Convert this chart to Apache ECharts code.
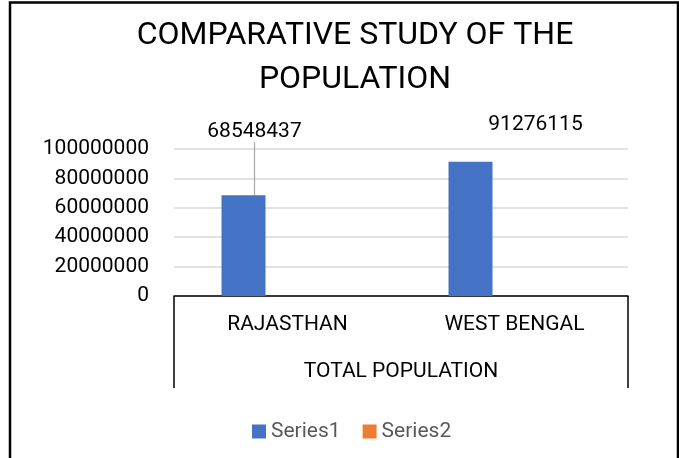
<!DOCTYPE html>
<html>
<head>
<meta charset="utf-8">
<script src="https://cdn.jsdelivr.net/npm/echarts@6/dist/echarts.min.js"></script>
<style>
html,body{margin:0;padding:0;background:#fff;}
#chart{width:679px;height:458px;}
</style>
</head>
<body>
<div id="chart"></div>
<script>
var titleText = 'COMPARATIVE STUDY OF THE\nPOPULATION';
var categories = ['RAJASTHAN', 'WEST BENGAL'];
var groupLabel = ['TOTAL POPULATION'];
var series1 = [68548437, 91276115];
var series2 = [null, null];
var seriesNames = ['Series1', 'Series2'];
var yTicks = [0, 20000000, 40000000, 60000000, 80000000, 100000000];

var FONT = 'Roboto';
var chart = echarts.init(document.getElementById('chart'));
var labelMoves = [[11, -48], [65, -22]];

chart.setOption({
  animation: false,
  backgroundColor: '#ffffff',
  title: {
    text: titleText,
    left: 350,
    top: 9,
    textAlign: 'center',
    textStyle: { fontFamily: FONT, fontSize: 32, fontWeight: 'normal', color: '#000000', lineHeight: 44 }
  },
  legend: {
    data: seriesNames,
    bottom: 11,
    left: 247,
    icon: 'rect',
    itemWidth: 14,
    itemHeight: 14,
    itemGap: 22,
    textStyle: { fontFamily: FONT, fontSize: 21, color: '#595959' }
  },
  grid: { left: 174, right: 51, top: 149, bottom: 162, containLabel: false },
  xAxis: [{
    type: 'category',
    data: categories,
    position: 'bottom',
    axisLine: { show: true, lineStyle: { color: '#000000', width: 1.5 } },
    axisTick: { show: false },
    axisLabel: { fontFamily: FONT, fontSize: 21, color: '#000000', margin: 18 }
  }, {
    type: 'category',
    data: groupLabel,
    position: 'bottom',
    axisLine: { show: false },
    axisTick: { show: true, length: 92, lineStyle: { color: '#000000', width: 1.5 } },
    axisLabel: { fontFamily: FONT, fontSize: 21, color: '#000000', margin: 65 }
  }],
  yAxis: {
    type: 'value',
    min: yTicks[0],
    max: yTicks[yTicks.length - 1],
    interval: yTicks[1] - yTicks[0],
    axisLine: { show: false },
    axisTick: { show: false },
    splitLine: { lineStyle: { color: '#d9d9d9', width: 1.5 } },
    axisLabel: {
      fontFamily: FONT, fontSize: 21, color: '#000000', margin: 25,
      formatter: function (v) { return String(v); }
    }
  },
  series: [{
    name: seriesNames[0],
    type: 'bar',
    xAxisIndex: 0,
    data: series1.map(function (v, i) {
      return { value: v, labelLine: { show: i === 0 } };
    }),
    barWidth: 44,
    barGap: '100%',
    itemStyle: { color: '#4472C4' },
    label: { show: true, position: 'top', fontFamily: FONT, fontSize: 21, color: '#000000', distance: 5 },
    labelLine: { show: false, lineStyle: { color: '#a6a6a6', width: 1.2 } },
    labelLayout: function (p) {
      var m = labelMoves[p.dataIndex] || [0, 0];
      return { dx: m[0], dy: m[1] };
    }
  }, {
    name: seriesNames[1],
    type: 'bar',
    xAxisIndex: 0,
    data: series2,
    barWidth: 44,
    itemStyle: { color: '#ED7D31' }
  }],
  graphic: [{
    type: 'rect',
    shape: { x: 10, y: 2.5, width: 668, height: 470 },
    style: { fill: 'none', stroke: '#000000', lineWidth: 2.5 },
    silent: true,
    z: 100
  }]
});
</script>
</body>
</html>
